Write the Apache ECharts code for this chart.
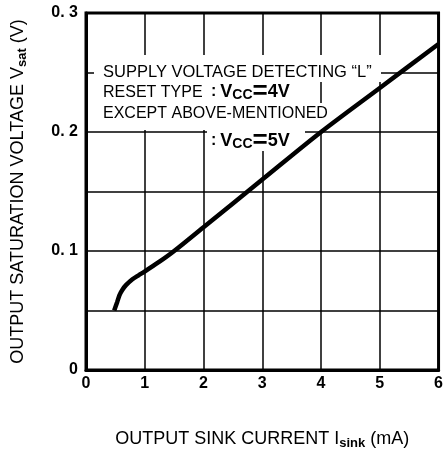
<!DOCTYPE html>
<html><head><meta charset="utf-8">
<script src="https://cdn.jsdelivr.net/npm/echarts@6/dist/echarts.min.js"></script>
<style>html,body{margin:0;padding:0;background:#fff}#c{width:446px;height:455px}</style>
</head><body><div id="c"></div>
<script>
// Data
const sinkCurrent = [0.48, 0.53, 0.57, 0.62, 0.68, 0.79, 0.9, 0.99, 1.25, 1.5, 2, 3, 4, 5, 6];
const satVoltage  = [0.05, 0.057, 0.063, 0.0675, 0.0713, 0.0763, 0.0798, 0.0825, 0.091, 0.1, 0.12, 0.16, 0.2, 0.237, 0.274];
const xTickLabels = ['0', '1', '2', '3', '4', '5', '6'];
const yTickValues = [0, 0.1, 0.2, 0.3];
const yTickLabels = ['0', '0. 1', '0. 2', '0. 3'];
const noteLine1 = 'SUPPLY VOLTAGE DETECTING \u201CL\u201D';
const noteLine2 = 'RESET TYPE';
const noteLine3 = 'EXCEPT ABOVE-MENTIONED';
const vccA = '4V';
const vccB = '5V';

const FONT = '"Liberation Sans", Arial, sans-serif';
const chart = echarts.init(document.getElementById('c'), null, {renderer: 'canvas'});

const subRich = {
  n: {fontFamily: FONT, fontSize: 18, color: '#000', lineHeight: 22, verticalAlign: 'middle'},
  s: {fontFamily: FONT, fontSize: 13, fontWeight: 'bold', color: '#000', lineHeight: 13, verticalAlign: 'bottom'}
};
const vccRich = {
  c: {fontFamily: FONT, fontSize: 16, fontWeight: 'bold', color: '#000', lineHeight: 20, verticalAlign: 'middle', padding: [0, 4, 0, 0]},
  b: {fontFamily: FONT, fontSize: 18, fontWeight: 'bold', color: '#000', lineHeight: 20, verticalAlign: 'middle'},
  e: {fontFamily: FONT, fontSize: 26, fontWeight: 'bold', color: '#000', lineHeight: 20, verticalAlign: 'middle'},
  s: {fontFamily: FONT, fontSize: 14, fontWeight: 'bold', color: '#000', lineHeight: 14, verticalAlign: 'bottom'}
};
function vccText(v) { return '{c|:}{b|V}{s|CC}{e|=}{b|' + v + '}'; }

const option = {
  animation: false,
  backgroundColor: '#fff',
  textStyle: {fontFamily: FONT},
  grid: {left: 86, right: 2, top: 13, bottom: 83, containLabel: false, show: true,
         borderColor: '#000', borderWidth: 3, backgroundColor: 'transparent'},
  xAxis: {
    type: 'value', min: 0, max: 6, interval: 1,
    axisLine: {show: true, lineStyle: {color: '#000', width: 3}},
    axisTick: {show: false},
    splitLine: {show: true, lineStyle: {color: '#000', width: 1.5}},
    axisLabel: {color: '#000', fontWeight: 'bold', fontSize: 16, margin: 6,
                formatter: v => xTickLabels[Math.round(v)]},
    name: '{n|OUTPUT SINK CURRENT I}{s|sink}{n| (mA)}',
    nameLocation: 'middle', nameGap: 58,
    nameTextStyle: {rich: subRich}
  },
  yAxis: {
    type: 'value', min: 0, max: 0.3, interval: 0.05,
    axisLine: {show: true, lineStyle: {color: '#000', width: 3}},
    axisTick: {show: false},
    splitLine: {show: true, lineStyle: {color: '#000', width: 1.5}},
    axisLabel: {color: '#000', fontWeight: 'bold', fontSize: 16, margin: 8,
                formatter: v => {
                  const i = yTickValues.findIndex(t => Math.abs(t - v) < 1e-6);
                  return i >= 0 ? yTickLabels[i] : '';
                }},
    name: '{n|OUTPUT SATURATION VOLTAGE V}{s|sat}{n| (V)}',
    nameLocation: 'middle', nameGap: 57,
    nameTextStyle: {rich: subRich}
  },
  graphic: [
    {type: 'rect', z: 1, shape: {x: 94, y: 55, width: 287, height: 27}, style: {fill: '#fff'}},
    {type: 'rect', z: 1, shape: {x: 94, y: 82, width: 212, height: 21}, style: {fill: '#fff'}},
    {type: 'rect', z: 1, shape: {x: 94, y: 103, width: 240, height: 27}, style: {fill: '#fff'}},
    {type: 'rect', z: 1, shape: {x: 207, y: 130, width: 98, height: 21}, style: {fill: '#fff'}},
    {type: 'text', z: 5, style: {text: noteLine1, x: 103, y: 72, font: '16.5px ' + FONT, fill: '#000', verticalAlign: 'middle'}},
    {type: 'text', z: 5, style: {text: noteLine2, x: 103, y: 93, font: '16px ' + FONT, fill: '#000', verticalAlign: 'middle'}},
    {type: 'text', z: 5, style: {text: vccText(vccA), rich: vccRich, x: 211, y: 92, verticalAlign: 'middle'}},
    {type: 'text', z: 5, style: {text: noteLine3, x: 103, y: 114, font: '16px ' + FONT, fill: '#000', verticalAlign: 'middle'}},
    {type: 'text', z: 5, style: {text: vccText(vccB), rich: vccRich, x: 211, y: 141, verticalAlign: 'middle'}}
  ],
  series: [{
    type: 'line', z: 3,
    data: sinkCurrent.map((x, i) => [x, satVoltage[i]]),
    smooth: 0.3, showSymbol: false, clip: true,
    lineStyle: {color: '#000', width: 4.5}
  }]
};
chart.setOption(option);
</script></body></html>
